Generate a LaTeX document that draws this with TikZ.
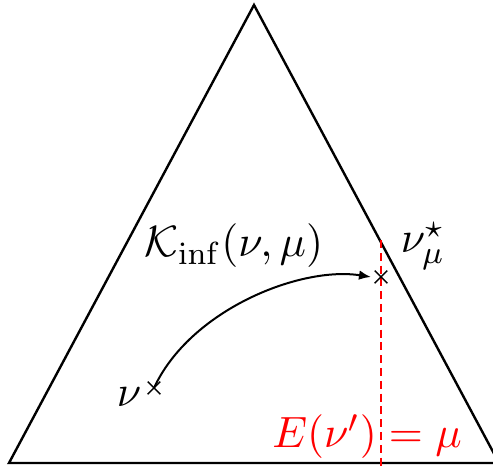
\documentclass[tikz,border=0pt]{standalone}
\usetikzlibrary{arrows.meta,shapes.misc}
\begin{document}
\begin{tikzpicture}[x=0.25pt,y=-0.25pt,
  lbl/.style={inner sep=0pt, font=\fontsize{11.3}{13.5}\selectfont},
  xmark/.style={cross out, draw, minimum size=2.8pt, inner sep=0pt, line width=0.35pt},
  tri/.style={line width=0.6pt, line join=miter},
  level/.style={red, line width=0.5pt, dash pattern=on 2pt off 1.2pt},
  flow/.style={line width=0.5pt, -{Latex[length=3pt,width=2.4pt]}}]
\useasboundingbox (0,0) rectangle (493,466);
\clip (0,0) rectangle (493,466);
\coordinate (A) at (254,5);
\coordinate (L) at (9,463);
\coordinate (R) at (499,463);
\draw[tri] (L) -- (A) -- (R) -- cycle;
\coordinate (D1) at (381,240);
\coordinate (D2) at (381,466);
\draw[level] (D1) -- (D2);
\node[xmark] (p1) at (154,388) {};
\node[xmark] (p2) at (381,277) {};
\coordinate (tip) at (371,277);
\draw[flow] (p1.center) .. controls (190,310) and (300,266) .. (tip);
\node[lbl, anchor=base] (K) at (234,257) {$\mathcal{K}_{\inf}(\nu,\mu)$};
\node[lbl, anchor=base west] (nus) at (400,253) {$\nu^\star_\mu$};
\node[lbl, anchor=base west] (nu) at (116,407) {$\nu$};
\node[lbl, anchor=base, text=red] (E) at (367,448) {$E(\nu')=\mu$};
\end{tikzpicture}
\end{document}
